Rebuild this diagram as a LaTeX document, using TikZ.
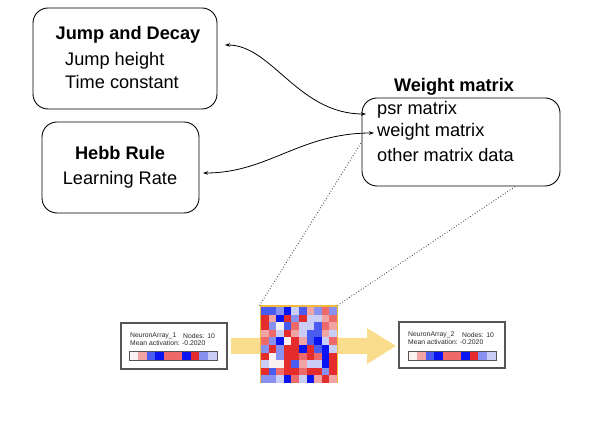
\documentclass[tikz,border=0pt]{standalone}
\usepackage{fontspec}
\setmainfont{Liberation Sans}
\usetikzlibrary{arrows.meta}
\definecolor{cD}{HTML}{0A14F0}
\definecolor{cB}{HTML}{4A5CF0}
\definecolor{cM}{HTML}{8890F0}
\definecolor{cL}{HTML}{CACEF6}
\definecolor{cW}{HTML}{FAF2F2}
\definecolor{cP}{HTML}{F2A4A4}
\definecolor{cQ}{HTML}{EE6A6A}
\definecolor{cR}{HTML}{E42C2C}
\definecolor{matborder}{HTML}{F2BA3A}
\definecolor{yarrow}{HTML}{F9DD8C}
\definecolor{nagray}{HTML}{555555}
\begin{document}
\begin{tikzpicture}[x=1pt,y=-1pt,
  box/.style={draw, rounded corners=15pt, line width=0.9pt, inner sep=0},
  title/.style={font=\bfseries\fontsize{18.2}{21}\selectfont, inner sep=0},
  item/.style={font=\fontsize{18.2}{21}\selectfont, inner sep=0},
  link/.style={line width=0.8pt, {Stealth[length=5pt,width=3.5pt]}-{Stealth[length=5pt,width=3.5pt]}},
  guide/.style={dotted, line width=0.8pt, black!80},
  nabox/.style={draw=nagray, line width=1.2pt, inner sep=0},
  natext/.style={font=\fontsize{6.8}{8}\selectfont, inner sep=0, anchor=west, text=black!85}]
\useasboundingbox (0,0) rectangle (600,427);

% boxes
\node[box, minimum width=184pt, minimum height=101pt] (jd) at (125,58.5) {};
\node[title] (jdT) at (128,35) {Jump and Decay};
\node[item, anchor=west] (jd1) at (65,61) {Jump height};
\node[item, anchor=west] (jd2) at (65,82) {Time constant};

\node[box, minimum width=157pt, minimum height=91pt] (hb) at (120.5,167.5) {};
\node[title] (hbT) at (120,153) {Hebb Rule};
\node[item] (hb1) at (120,180) {Learning Rate};

\node[box, minimum width=198pt, minimum height=88pt] (wm) at (461,142) {};
\node[title] (wmT) at (454,87) {Weight matrix};
\node[item, anchor=west] (wm1) at (377,110) {psr matrix};
\node[item, anchor=west] (wm2) at (377,132) {weight matrix};
\node[item, anchor=west] (wm3) at (377,155) {other matrix data};

% connectors
\coordinate (p1) at (225,45);
\coordinate (p2) at (366,114);
\coordinate (p3) at (374,133);
\coordinate (p4) at (203,173);
\draw[link] (p1) .. controls (272,45) and (298,114) .. (p2);
\draw[link] (p3) .. controls (300,133) and (268,173) .. (p4);

% yellow arrow
\fill[yarrow] (231,338) -- (367,338) -- (367,328) -- (396,346) -- (367,364) -- (367,354) -- (231,354) -- cycle;

% matrix
\node[minimum size=78pt, inner sep=0, outer sep=0, fill=matborder] (mat) at (298.5,344.5) {};
\foreach \row [count=\j from 0] in {
  {B,B,M,D,L,B,P,M,Q,M},
  {R,P,D,R,M,R,L,L,P,Q},
  {R,M,W,B,Q,L,L,B,Q,P},
  {P,Q,L,R,P,L,B,B,P,L},
  {Q,M,D,W,R,P,B,D,L,Q},
  {M,R,M,R,R,D,R,B,D,L},
  {R,W,M,R,R,Q,R,Q,D,R},
  {L,W,W,R,B,P,L,L,D,R},
  {R,B,Q,R,R,Q,R,R,M,R},
  {M,M,L,D,Q,L,D,P,R,P}} {
  \foreach \c [count=\i from 0] in \row {
    \fill[c\c] (261+\i*7.6,307+\j*7.6) rectangle ++(7.65,7.65);
  }
}

% dotted guides
\coordinate (g1) at (361,143);
\coordinate (g2) at (516,186);
\draw[guide] (mat.north west) -- (g1);
\draw[guide] (mat.north east) -- (g2);

% neuron arrays
\node[nabox, minimum width=106pt, minimum height=46pt] (na1) at (174,346) {};
\node[natext] (na1a) at (130,336) {NeuronArray\_1};
\node[natext] (na1b) at (183,336) {Nodes: 10};
\node[natext] (na1c) at (130,343.5) {Mean activation: -0.2020};
\node[nabox, minimum width=106pt, minimum height=46pt] (na2) at (452,345) {};
\node[natext] (na2a) at (408,335) {NeuronArray\_2};
\node[natext] (na2b) at (462,335) {Nodes: 10};
\node[natext] (na2c) at (408,342.5) {Mean activation: -0.2020};

\foreach \x/\y in {129/351, 408/351} {
  \foreach \c [count=\i from 0] in {W,P,B,D,Q,Q,D,R,M,L} {
    \fill[c\c] (\x+\i*8.8,\y) rectangle ++(8.8,9);
  }
  \draw[nagray, line width=0.9pt] (\x,\y) rectangle ++(88,9);
}
\end{tikzpicture}
\end{document}
